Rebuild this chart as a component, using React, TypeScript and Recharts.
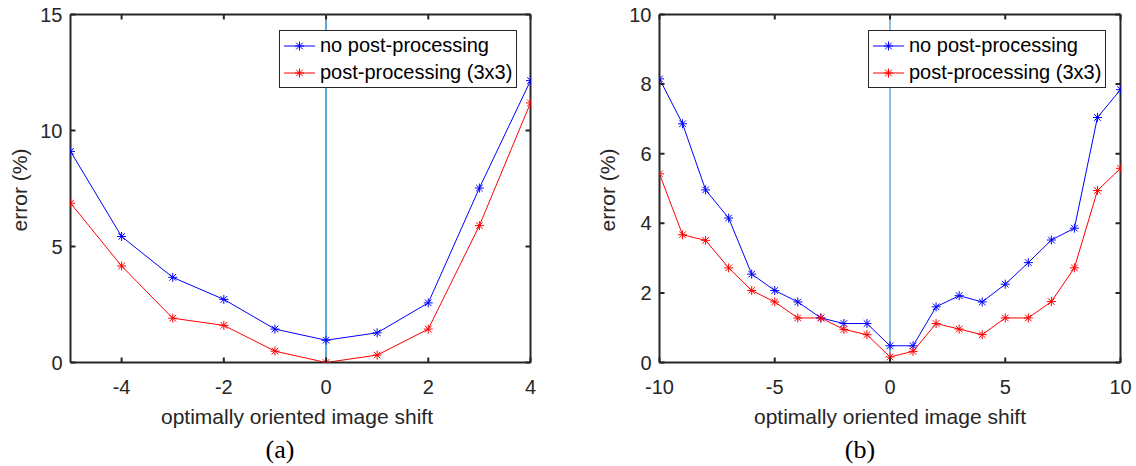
import React from 'react';
import {
  LineChart,
  Line,
  XAxis,
  YAxis,
  Legend,
  ReferenceLine,
} from 'recharts';

// values
const shiftA = [-5, -4, -3, -2, -1, 0, 1, 2, 3, 4];
const noPostA = [9.1, 5.43, 3.67, 2.72, 1.44, 0.96, 1.28, 2.57, 7.52, 12.15];
const postA = [6.87, 4.16, 1.91, 1.6, 0.49, 0, 0.32, 1.44, 5.9, 11.19];

const shiftB = [-10, -9, -8, -7, -6, -5, -4, -3, -2, -1, 0, 1, 2, 3, 4, 5, 6, 7, 8, 9, 10];
const noPostB = [8.15, 6.86, 4.96, 4.15, 2.54, 2.07, 1.74, 1.28, 1.12, 1.12, 0.48, 0.48, 1.6, 1.92, 1.74, 2.25, 2.87, 3.52, 3.86, 7.04, 7.84];
const postB = [5.42, 3.67, 3.51, 2.72, 2.07, 1.74, 1.28, 1.28, 0.95, 0.8, 0.16, 0.32, 1.12, 0.96, 0.8, 1.28, 1.28, 1.75, 2.72, 4.94, 5.58];

const xTicksA = [-4, -2, 0, 2, 4];
const yTicksA = [0, 5, 10, 15];
const xTicksB = [-10, -5, 0, 5, 10];
const yTicksB = [0, 2, 4, 6, 8, 10];

const seriesNames = ['no post-processing', 'post-processing (3x3)'];

const AXIS = '#262626';
const FRAME_W = 2;
const BLUE = '#0000ff';
const RED = '#ff0000';
const FONT = '"Liberation Sans", Arial, sans-serif';

const PLOT_TOP = 14.5;
const X_AXIS_H = 103.5;
const PLOT_H = 466 - PLOT_TOP - X_AXIS_H;
const TICK_LEN = 5;
const X_GAP = 20;
const Y_GAP = 8;

const toRows = (xs: number[], a: number[], b: number[]) =>
  xs.map((x, i) => ({ x, noPost: a[i], post: b[i] }));

const dataA = toRows(shiftA, noPostA, postA);
const dataB = toRows(shiftB, noPostB, postB);

// matlab-style '*' marker
function Star(props: any) {
  const { cx, cy, stroke, index } = props;
  if (cx == null || cy == null) return null;
  const r = 4.5;
  const d = 3.3;
  return (
    <g key={`s-${index}`} stroke={stroke} strokeWidth={1} fill="none">
      <line x1={cx - r} y1={cy} x2={cx + r} y2={cy} />
      <line x1={cx} y1={cy - r} x2={cx} y2={cy + r} />
      <line x1={cx - d} y1={cy - d} x2={cx + d} y2={cy + d} />
      <line x1={cx - d} y1={cy + d} x2={cx + d} y2={cy - d} />
    </g>
  );
}

// bottom tick: label plus inward marks on bottom and top edges
function XTick(props: any) {
  const { x, y, payload } = props;
  const cx = Number(x);
  const axisY = Number(y) - X_GAP;
  const topY = axisY - PLOT_H;
  return (
    <g>
      <path
        d={`M${cx},${axisY}V${axisY - TICK_LEN}M${cx},${topY}V${topY + TICK_LEN}`}
        stroke={AXIS}
        strokeWidth={FRAME_W}
        fill="none"
      />
      <text x={cx} y={axisY + 31} textAnchor="middle" fill={AXIS} fontSize={20} fontFamily={FONT}>
        {payload.value}
      </text>
    </g>
  );
}

// left tick: label plus inward marks on left and right edges
function makeYTick(plotW: number) {
  return function YTick(props: any) {
    const { x, y, payload } = props;
    const cy = Number(y);
    const axisX = Number(x) + Y_GAP;
    const rightX = axisX + plotW;
    return (
      <g>
        <path
          d={`M${axisX},${cy}H${axisX + TICK_LEN}M${rightX},${cy}H${rightX - TICK_LEN}`}
          stroke={AXIS}
          strokeWidth={FRAME_W}
          fill="none"
        />
        <text x={Number(x)} y={cy + 7} textAnchor="end" fill={AXIS} fontSize={20} fontFamily={FONT}>
          {payload.value}
        </text>
      </g>
    );
  };
}

function LegendBox() {
  const rows = [
    { name: seriesNames[0], color: BLUE },
    { name: seriesNames[1], color: RED },
  ];
  return (
    <div
      style={{
        width: 238,
        height: 58,
        boxSizing: 'border-box',
        border: `1px solid ${AXIS}`,
        background: '#fff',
        position: 'relative',
        fontFamily: FONT,
        fontSize: 20,
        color: '#000',
      }}
    >
      {rows.map((r, i) => (
        <div
          key={r.name}
          style={{
            position: 'absolute',
            left: 4,
            top: i === 0 ? 4 : 31,
            height: 22,
            display: 'flex',
            alignItems: 'center',
            whiteSpace: 'nowrap',
          }}
        >
          <svg width={32} height={22} style={{ marginRight: 4 }}>
            <line x1={0} y1={11} x2={31} y2={11} stroke={r.color} strokeWidth={1} />
            <Star cx={15.5} cy={11} stroke={r.color} />
          </svg>
          <span>{r.name}</span>
        </div>
      ))}
    </div>
  );
}

type PanelProps = {
  data: { x: number; noPost: number; post: number }[];
  xTicks: number[];
  yTicks: number[];
  xDomain: [number, number];
  yDomain: [number, number];
  left: number;
  plotW: number;
  legendLeft: number;
  zeroColor: string;
  zeroWidth: number;
};

function Panel(p: PanelProps) {
  const yAxisW = 60;
  const margin = { top: PLOT_TOP, right: 568 - p.left - p.plotW, bottom: 0, left: p.left - yAxisW };
  const frame = { stroke: AXIS, strokeWidth: FRAME_W };
  return (
    <LineChart width={568} height={466} data={p.data} margin={margin}>
      <XAxis
        dataKey="x"
        type="number"
        domain={p.xDomain}
        ticks={p.xTicks}
        allowDataOverflow
        interval={0}
        height={X_AXIS_H}
        axisLine={frame}
        tickLine={false}
        tickSize={0}
        tickMargin={X_GAP}
        tick={<XTick />}
      />
      <YAxis
        type="number"
        domain={p.yDomain}
        ticks={p.yTicks}
        allowDataOverflow
        interval={0}
        width={yAxisW}
        axisLine={frame}
        tickLine={false}
        tickSize={0}
        tickMargin={Y_GAP}
        tick={makeYTick(p.plotW)}
      />
      {/* top and right edges of the box */}
      <ReferenceLine x={p.xDomain[1]} stroke={AXIS} strokeWidth={FRAME_W} ifOverflow="visible" />
      <ReferenceLine y={p.yDomain[1]} stroke={AXIS} strokeWidth={FRAME_W} ifOverflow="visible" />
      <ReferenceLine x={0} stroke={p.zeroColor} strokeWidth={p.zeroWidth} />
      <Line
        dataKey="noPost"
        name={seriesNames[0]}
        stroke={BLUE}
        strokeWidth={1}
        dot={(props: any) => <Star key={`b-${props.index}`} {...props} />}
        activeDot={false}
        isAnimationActive={false}
      />
      <Line
        dataKey="post"
        name={seriesNames[1]}
        stroke={RED}
        strokeWidth={1}
        dot={(props: any) => <Star key={`r-${props.index}`} {...props} />}
        activeDot={false}
        isAnimationActive={false}
      />
      <Legend
        layout="vertical"
        align="center"
        verticalAlign="middle"
        wrapperStyle={{ top: 29.5, left: p.legendLeft, width: 238, height: 58 }}
        content={() => <LegendBox />}
      />
    </LineChart>
  );
}

export default function App() {
  const titleStyle = { fontFamily: FONT, fontSize: 21, fill: AXIS };
  const capStyle = { fontFamily: '"Liberation Serif", "Times New Roman", serif', fontSize: 26, fill: '#000' };
  return (
    <div style={{ position: 'absolute', left: 0, top: 0, width: 1136, height: 466, background: '#fff' }}>
      <div style={{ position: 'absolute', left: 0, top: 0 }}>
        <Panel
          data={dataA}
          xTicks={xTicksA}
          yTicks={yTicksA}
          xDomain={[-5, 4]}
          yDomain={[0, 15]}
          left={70.5}
          plotW={460}
          legendLeft={279}
          zeroColor="#5aa5da"
          zeroWidth={2}
        />
      </div>
      <div style={{ position: 'absolute', left: 568, top: 0 }}>
        <Panel
          data={dataB}
          xTicks={xTicksB}
          yTicks={yTicksB}
          xDomain={[-10, 10]}
          yDomain={[0, 10]}
          left={91.5}
          plotW={461}
          legendLeft={300}
          zeroColor="#1c7cc4"
          zeroWidth={1}
        />
      </div>
      <svg width={1136} height={466} style={{ position: 'absolute', left: 0, top: 0, pointerEvents: 'none' }}>
        <text x={27} y={190} textAnchor="middle" transform="rotate(-90 27 190)" style={titleStyle}>
          error (%)
        </text>
        <text x={615} y={190} textAnchor="middle" transform="rotate(-90 615 190)" style={titleStyle}>
          error (%)
        </text>
        <text x={297} y={424} textAnchor="middle" style={titleStyle}>
          optimally oriented image shift
        </text>
        <text x={890} y={424} textAnchor="middle" style={titleStyle}>
          optimally oriented image shift
        </text>
        <text x={280} y={458} textAnchor="middle" style={capStyle}>
          (a)
        </text>
        <text x={860} y={458} textAnchor="middle" style={capStyle}>
          (b)
        </text>
      </svg>
    </div>
  );
}
